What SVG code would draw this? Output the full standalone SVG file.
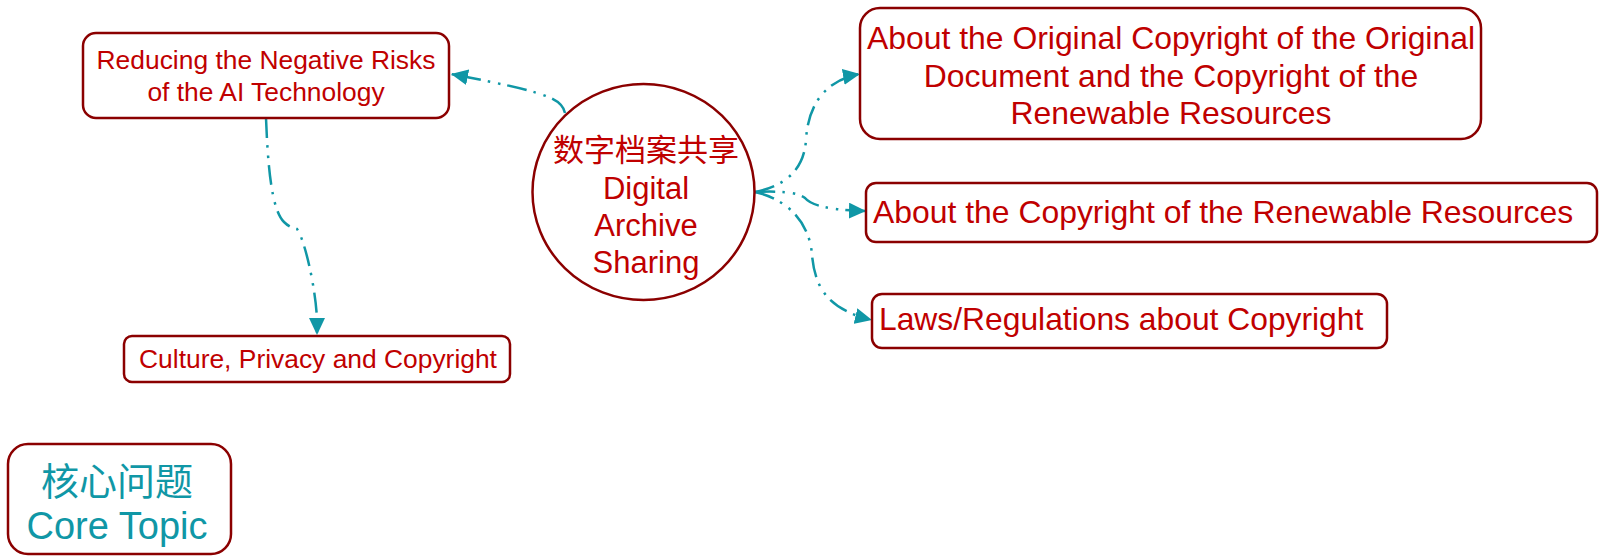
<svg xmlns="http://www.w3.org/2000/svg" width="1599" height="556" viewBox="0 0 1599 556">
<style>
.box{fill:#fff;stroke:#8b0000;stroke-width:2.5}
.t{font-family:"Liberation Sans","Noto Sans CJK SC",sans-serif;fill:#c00000}
.teal{fill:#1097a6}
.c{fill:none;stroke:#1097a6;stroke-width:2.5;stroke-dasharray:20 7 2.5 8 2.5 7;marker-end:url(#ah)}
</style>
<defs>
<marker id="ah" markerUnits="userSpaceOnUse" markerWidth="18" markerHeight="16" refX="17" refY="8" orient="auto">
<path d="M0,0 L17,8 L0,16 z" fill="#1097a6"/>
</marker>
</defs>
<rect width="1599" height="556" fill="#fff"/>
<g id="connectors">
<path class="c" d="M565,113 C562,98 545,92 451,74"/>
<path class="c" d="M266,118 C268,170 272,210 284,222 Q290,228 297,229 C305,240 316,290 317,320 L317,335"/>
<path class="c" d="M755,192 C785,186 804,170 806,140 C808,105 825,80 860,74"/>
<path class="c" d="M755,192 Q795,190 805,198 Q815,210 866,211"/>
<path class="c" d="M755,192 C790,200 810,225 812,255 C815,290 830,310 872,320"/>
</g>
<g id="node-center">
<ellipse class="box" cx="643.5" cy="192" rx="111" ry="108"/>
<text class="t" font-size="31" text-anchor="middle" x="646" y="161">数字档案共享</text>
<text class="t" font-size="31" text-anchor="middle" x="646" y="199">Digital</text>
<text class="t" font-size="31" text-anchor="middle" x="646" y="236">Archive</text>
<text class="t" font-size="31" text-anchor="middle" x="646" y="273">Sharing</text>
</g>
<g id="node-reducing">
<rect class="box" x="83" y="33" width="366" height="85" rx="13"/>
<text class="t" font-size="26.4" text-anchor="middle" x="266" y="69">Reducing the Negative Risks</text>
<text class="t" font-size="26.4" text-anchor="middle" x="266" y="101">of the AI Technology</text>
</g>
<g id="node-culture">
<rect class="box" x="124" y="336" width="386" height="46" rx="8"/>
<text class="t" font-size="26.4" text-anchor="middle" x="318" y="368">Culture, Privacy and Copyright</text>
</g>
<g id="node-original">
<rect class="box" x="860" y="8" width="621" height="131" rx="20"/>
<text class="t" font-size="31.9" text-anchor="middle" x="1171" y="49">About the Original Copyright of the Original</text>
<text class="t" font-size="31.9" text-anchor="middle" x="1171" y="87">Document and the Copyright of the</text>
<text class="t" font-size="31.9" text-anchor="middle" x="1171" y="124">Renewable Resources</text>
</g>
<g id="node-renewable">
<rect class="box" x="866" y="183" width="731" height="59" rx="10"/>
<text class="t" font-size="31.9" x="873" y="223">About the Copyright of the Renewable Resources</text>
</g>
<g id="node-laws">
<rect class="box" x="872" y="294" width="515" height="54" rx="10"/>
<text class="t" font-size="31.8" x="879" y="330">Laws/Regulations about Copyright</text>
</g>
<g id="node-core">
<rect class="box" x="8" y="444" width="223" height="110" rx="20"/>
<text class="t teal" font-size="38" text-anchor="middle" x="117" y="495">核心问题</text>
<text class="t teal" font-size="38" text-anchor="middle" x="117" y="539">Core Topic</text>
</g>
</svg>
